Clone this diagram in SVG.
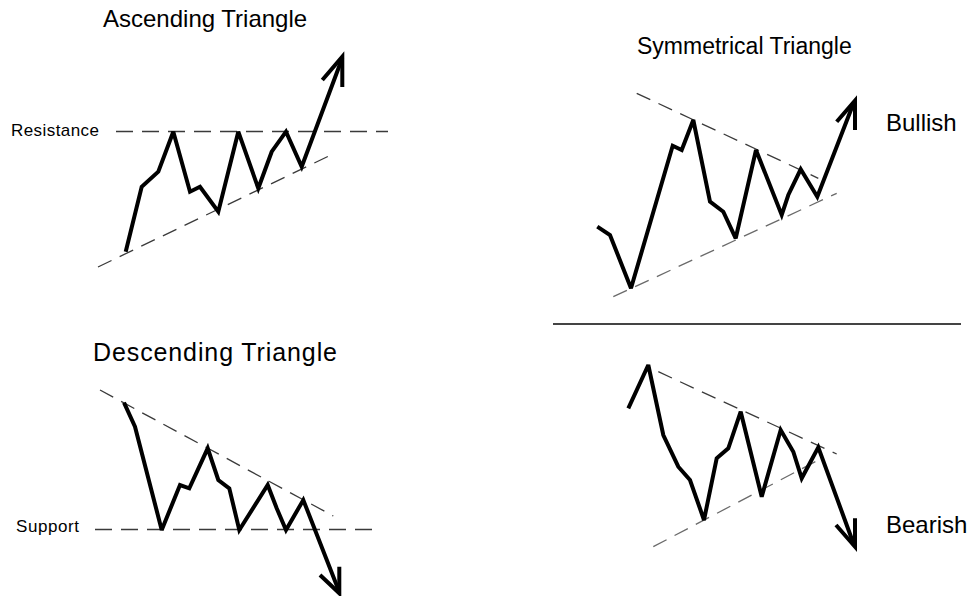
<svg xmlns="http://www.w3.org/2000/svg" width="975" height="596" viewBox="0 0 975 596">
<style>
.bg{fill:#fff}
.price{fill:none;stroke:#000;stroke-width:4;stroke-linejoin:miter;stroke-miterlimit:3;stroke-linecap:butt}
.trend{fill:none;stroke:#3a3a3a;stroke-width:1.3;stroke-dasharray:15 9}
.trendh{fill:none;stroke:#3a3a3a;stroke-width:1.3;stroke-dasharray:17 9}
.t{font-family:"Liberation Sans",Arial,sans-serif;fill:#000}
.title{font-size:24px}
.side{font-size:24px}
.lbl{font-size:17px}
</style>
<rect class="bg" x="0" y="0" width="975" height="596"/>
<g id="ascending">
<text class="t title" x="103" y="27">Ascending Triangle</text>
<text class="t lbl" x="11" y="136" textLength="88" lengthAdjust="spacing">Resistance</text>
<line class="trendh" x1="116" y1="131.5" x2="388" y2="131.5"/>
<line class="trend" x1="98" y1="267" x2="333" y2="154"/>
<polyline class="price" points="125.7,251.7 141.7,186.7 158.3,171.7 173.3,131.7 190,191.7 200,186.7 218.3,211.7 238.3,131.7 258.3,188.3 271.7,151.7 286,131.7 301.7,166.7 342.3,58"/>
<polyline class="price" points="322.3,80 342.3,56.7 342.3,87"/>
</g>
<g id="descending">
<text class="t title" x="93" y="361" style="font-size:25px" textLength="244" lengthAdjust="spacing">Descending Triangle</text>
<text class="t lbl" x="16" y="532" textLength="63" lengthAdjust="spacing">Support</text>
<line class="trendh" x1="95" y1="529.5" x2="378" y2="529.5"/>
<line class="trend" x1="100" y1="390" x2="333.3" y2="516"/>
<polyline class="price" points="124,402.7 135,426.7 161.7,530 180,485 189.3,488.3 207.7,448.3 218.3,480 229.3,488.3 239.3,530 267.7,485 276.7,508.3 286,530 303.3,500 339.3,592"/>
<polyline class="price" points="320,575 339.3,593.3 339.3,566.7"/>
</g>
<g id="symmetrical-bullish">
<text class="t title" x="637" y="54" style="font-size:23px">Symmetrical Triangle</text>
<text class="t side" x="886" y="131">Bullish</text>
<line class="trend" x1="636.7" y1="93.3" x2="818.3" y2="178.3"/>
<line class="trend" x1="613.3" y1="296.7" x2="836.7" y2="193.3" style="stroke:#6a6a6a"/>
<polyline class="price" points="597.3,226.7 610,235 631,288.3 672.7,145.7 681.7,150 693.3,120 710,201.7 723.3,211.7 735.7,238.3 756,150 781.7,215 788.3,195 800.7,169.3 817.3,196.7 854,102"/>
<polyline class="price" points="836.7,121.7 855,100.7 855,130"/>
</g>
<line id="divider" x1="553" y1="324" x2="961" y2="324" stroke="#444" stroke-width="2"/>
<g id="symmetrical-bearish">
<text class="t side" x="886" y="533">Bearish</text>
<line class="trend" x1="658.3" y1="371.7" x2="836.7" y2="454"/>
<line class="trend" x1="653.3" y1="546.7" x2="821.7" y2="458.3" style="stroke:#6a6a6a"/>
<polyline class="price" points="628.3,408.3 648.3,365 663.3,435 678.3,466.7 690,480 704,520 716.7,458.3 728.3,448.3 740.7,411.7 761.7,496.7 780.7,430 793.3,451.7 801.7,478.3 818.3,447.3 854,545"/>
<polyline class="price" points="836,525 855,546.7 855,518.3"/>
</g>
</svg>
